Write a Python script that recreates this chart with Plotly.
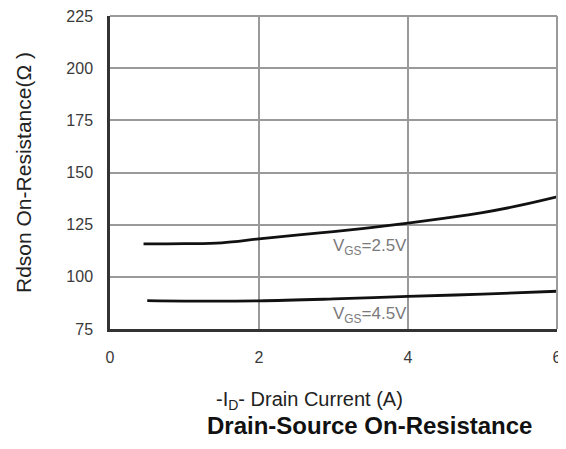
import plotly.graph_objects as go

# Data
id_25 = [0.45, 1.0, 1.5, 2.0, 2.5, 3.0, 3.5, 4.0, 4.5, 5.0, 5.5, 6.0]
r_25 = [115.8, 115.9, 116.3, 118.2, 120.0, 121.7, 123.6, 125.7, 128.1, 130.8, 134.2, 138.3]
id_45 = [0.5, 1.0, 2.0, 3.0, 4.0, 5.0, 6.0]
r_45 = [88.6, 88.4, 88.5, 89.4, 90.6, 91.7, 93.1]

x_ticks = [0, 2, 4, 6]
y_ticks = [75, 100, 125, 150, 175, 200, 225]

label_25 = "V<sub>GS</sub>=2.5V"
label_45 = "V<sub>GS</sub>=4.5V"
x_title = "-I<sub>D</sub>- Drain Current (A)"
y_title = "Rdson On-Resistance(Ω )"
chart_title = "<b>Drain-Source On-Resistance</b>"

FONT = "Liberation Sans, Arial, sans-serif"

# page offset (html body margin)
OFF = 8
W, H = 566 - OFF, 449 - 2 * OFF
L, T = 110 - OFF, 16 - OFF
R = W - (557 - OFF)
B = H - (329 - OFF)
plot_w = W - L - R
plot_h = H - T - B


def px_x(px):
    return (px - OFF - L) / plot_w


def px_y(py):
    return (H - B - (py - OFF)) / plot_h


fig = go.Figure()
fig.add_trace(go.Scatter(x=id_25, y=r_25, mode="lines",
                         line=dict(color="#111", width=2.8, shape="spline"), showlegend=False))
fig.add_trace(go.Scatter(x=id_45, y=r_45, mode="lines",
                         line=dict(color="#111", width=2.8, shape="spline"), showlegend=False))

fig.add_annotation(x=4.0, y=114.5, text=label_25, showarrow=False, xanchor="right", yanchor="middle",
                   xshift=1, font=dict(family=FONT, size=17, color="#7a7a7a"))
fig.add_annotation(x=4.0, y=81.5, text=label_45, showarrow=False, xanchor="right", yanchor="middle",
                   xshift=1, font=dict(family=FONT, size=17, color="#7a7a7a"))

fig.update_layout(
    width=W, height=H,
    margin=dict(l=L, r=R, t=T, b=B, autoexpand=False),
    paper_bgcolor="white", plot_bgcolor="white",
    font=dict(family=FONT, color="#333"),
    xaxis=dict(range=[0, 6], tickvals=x_ticks, showgrid=True, gridcolor="#9a9a9a", gridwidth=2,
               showline=True, linecolor="#333", linewidth=2.5, zeroline=False,
               ticks="", tickfont=dict(size=16, color="#3a3a3a"), ticklabelstandoff=12,
               ticklabeloverflow="allow"),
    yaxis=dict(range=[75, 225], tickvals=y_ticks, showgrid=True, gridcolor="#9a9a9a", gridwidth=2,
               showline=True, linecolor="#333", linewidth=2.5, zeroline=False,
               ticks="", tickfont=dict(size=16, color="#3a3a3a"), ticklabelstandoff=11,
               ticklabeloverflow="allow"),
)

# top and right border in gray
fig.add_shape(type="line", xref="paper", yref="paper", x0=0, x1=1, y0=1, y1=1,
              line=dict(color="#9a9a9a", width=2))
fig.add_shape(type="line", xref="paper", yref="paper", x0=1, x1=1, y0=0, y1=1,
              line=dict(color="#9a9a9a", width=2))

fig.add_annotation(x=px_x(309), y=px_y(400), xref="paper", yref="paper",
                   text=x_title, showarrow=False, xanchor="center", yanchor="middle",
                   font=dict(family=FONT, size=20, color="#222"))
fig.add_annotation(x=px_x(369), y=px_y(OFF + H), xref="paper", yref="paper",
                   text=chart_title, showarrow=False, xanchor="center", yanchor="bottom",
                   font=dict(family=FONT, size=24, color="#111"))
fig.add_annotation(x=px_x(23), y=px_y(173), xref="paper", yref="paper",
                   text=y_title, showarrow=False, xanchor="center", yanchor="middle", textangle=-90,
                   font=dict(family=FONT, size=21, color="#222"))

fig.write_html("out.html")
